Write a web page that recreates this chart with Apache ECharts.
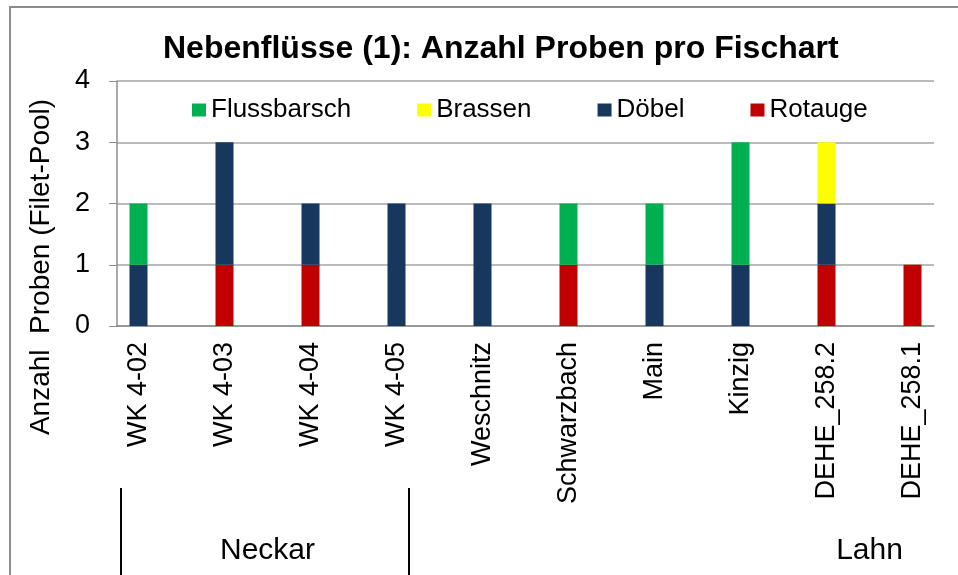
<!DOCTYPE html>
<html>
<head>
<meta charset="utf-8">
<script src="https://cdn.jsdelivr.net/npm/echarts@6/dist/echarts.min.js"></script>
<style>
  html, body { margin: 0; padding: 0; background: #fff; }
  #chart { width: 958px; height: 575px; }
</style>
</head>
<body>
<div id="chart"></div>
<script>
// sites in plot order, each sits on every second slot of the axis
const sites = ['WK 4-02', 'WK 4-03', 'WK 4-04', 'WK 4-05', 'Weschnitz', 'Schwarzbach', 'Main', 'Kinzig', 'DEHE_258.2', 'DEHE_258.1'];
const rotauge     = [0, 1, 1, 0, 0, 1, 0, 0, 1, 1];
const doebel      = [1, 2, 1, 2, 2, 0, 1, 1, 1, 0];
const flussbarsch = [1, 0, 0, 0, 0, 1, 1, 2, 0, 0];
const brassen     = [0, 0, 0, 0, 0, 0, 0, 0, 1, 0];
const yTicks = [0, 1, 2, 3, 4];
// river groups below the axis: label and slot index
const groups = [['Neckar', 3], ['Lahn', 17]];

const fontFamily = 'Liberation Sans, Arial, sans-serif';

// 19 slots: bar, gap, bar, gap ...
const slotCount = sites.length * 2 - 1;
const slots = [];
for (let i = 0; i < slotCount; i++) slots.push(i % 2 === 0 ? sites[i / 2] : '');
const toSlots = arr => {
  const out = [];
  for (let i = 0; i < slotCount; i++) {
    const v = i % 2 === 0 ? arr[i / 2] : 0;
    out.push(v ? v : null);
  }
  return out;
};
const groupSlots = slots.map(() => '');
groups.forEach(g => { groupSlots[g[1]] = g[0]; });

const seriesDefs = [
  {name: 'Rotauge', data: rotauge, color: '#C00000'},
  {name: 'Döbel', data: doebel, color: '#17375E'},
  {name: 'Flussbarsch', data: flussbarsch, color: '#00B050'},
  {name: 'Brassen', data: brassen, color: '#FFFF00'}
];

const series = seriesDefs.map(s => ({
  name: s.name,
  type: 'bar',
  stack: 'total',
  barWidth: 18,
  itemStyle: {color: s.color},
  data: toSlots(s.data)
}));

const option = {
  backgroundColor: '#fff',
  animation: false,
  textStyle: {fontFamily: fontFamily},
  title: {
    text: 'Nebenflüsse (1): Anzahl Proben pro Fischart',
    left: 158,
    top: 28,
    textStyle: {fontSize: 32, fontWeight: 'bold', color: '#000', fontFamily: fontFamily}
  },
  legend: {
    data: ['Flussbarsch', 'Brassen', 'Döbel', 'Rotauge'],
    left: 187,
    top: 92,
    itemWidth: 14,
    itemHeight: 13,
    itemGap: 66,
    icon: 'rect',
    textStyle: {fontSize: 26, color: '#000', fontFamily: fontFamily}
  },
  grid: {left: 117, right: 24, top: 81, bottom: 249, containLabel: false},
  xAxis: [
    {
      type: 'category',
      data: slots,
      axisLine: {lineStyle: {color: '#8c8c8c', width: 1.5}},
      axisTick: {interval: 0, length: 7, lineStyle: {color: '#8c8c8c'}},
      axisLabel: {interval: 0, rotate: 90, margin: 16, fontSize: 27, color: '#000', fontFamily: fontFamily}
    },
    {
      type: 'category',
      position: 'bottom',
      offset: 162,
      data: groupSlots,
      axisLine: {show: false},
      axisTick: {show: false},
      axisLabel: {interval: 0, margin: 48, fontSize: 30, color: '#000', fontFamily: fontFamily}
    }
  ],
  yAxis: {
    type: 'value',
    min: 0,
    max: 4,
    interval: 1,
    axisLine: {show: true, lineStyle: {color: '#8c8c8c', width: 1.5}},
    axisTick: {show: true, length: 8, lineStyle: {color: '#8c8c8c'}},
    axisLabel: {margin: 27, fontSize: 27, color: '#000', fontFamily: fontFamily,
      formatter: v => yTicks.indexOf(v) >= 0 ? String(v) : ''},
    splitLine: {lineStyle: {color: '#a6a6a6', width: 1.5}}
  },
  graphic: [
    {
      type: 'rect',
      shape: {x: 10, y: 7, width: 1000, height: 1000},
      style: {fill: 'none', stroke: '#8c8c8c', lineWidth: 2},
      silent: true
    },
    {
      type: 'text',
      x: 41, y: 267,
      rotation: Math.PI / 2,
      style: {text: 'Anzahl  Proben (Filet-Pool)', fontSize: 28, fill: '#000', fontFamily: fontFamily,
        align: 'center', verticalAlign: 'middle'},
      silent: true
    },
    {
      type: 'line',
      shape: {x1: 121, y1: 488, x2: 121, y2: 580},
      style: {stroke: '#000', lineWidth: 2},
      silent: true
    },
    {
      type: 'line',
      shape: {x1: 409, y1: 488, x2: 409, y2: 580},
      style: {stroke: '#000', lineWidth: 2},
      silent: true
    }
  ],
  series: series
};

const chart = echarts.init(document.getElementById('chart'));
chart.setOption(option);
</script>
</body>
</html>
